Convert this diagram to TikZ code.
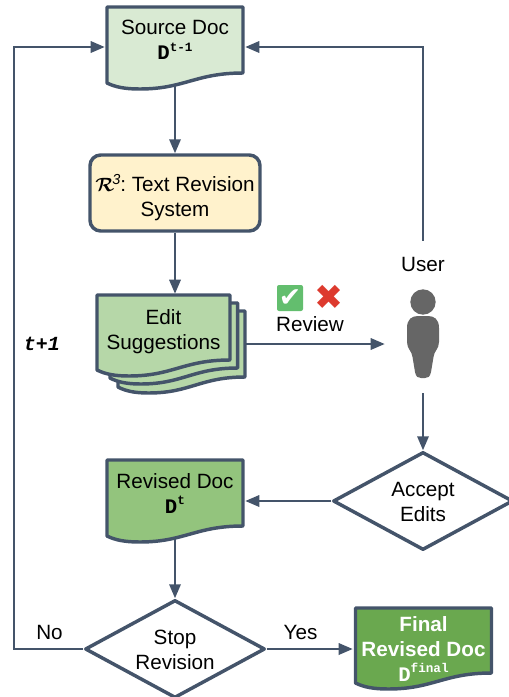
\documentclass[tikz,border=0pt]{standalone}
\usepackage{fontspec}
\usepackage{bm}
\setmainfont{Liberation Sans}
\newfontfamily\monofont{Liberation Mono}
\newfontfamily\symbolfont{DejaVu Sans}
\usetikzlibrary{arrows.meta,backgrounds,shapes.geometric}
\definecolor{slateline}{HTML}{44546A}
\definecolor{sourcefill}{HTML}{D9EAD3}
\definecolor{enginefill}{HTML}{FFF2CC}
\definecolor{suggestfill}{HTML}{B6D7A8}
\definecolor{revisedfill}{HTML}{93C47D}
\definecolor{finalfill}{HTML}{6AA84F}
\definecolor{usergray}{HTML}{666666}
\definecolor{checkgreen}{HTML}{63BE6E}
\definecolor{crossred}{HTML}{DD3A2E}
\newcommand{\docvar}[1]{{\monofont\bfseries D\raisebox{0.42em}{\fontsize{9.5}{9.5}\selectfont #1}}}
\newcommand{\docshape}[5]{\draw[docline,fill=#5,shift={(#1,#2)},xscale=#3/100]
  (0,0) -- (100,0) -- (100,#4) .. controls (65,#4) and (57,#4+16) .. (24,#4+16)
  .. controls (13,#4+16) and (6,#4+14) .. (0,#4+10) -- cycle;}
\tikzset{
  docline/.style={draw=slateline,line width=2.6pt,line join=round},
  link/.style={draw=slateline,line width=1.7pt,-{Triangle[length=10.5pt,width=8.5pt]}},
  doctext/.style={align=center,inner sep=0pt,minimum width=105pt,font=\fontsize{15.5}{18.75}\selectfont},
  decision/.style={doctext,diamond,aspect=1.84,docline,fill=white,minimum width=135pt,minimum height=73.5pt},
  tag/.style={inner sep=0pt,font=\fontsize{15.5}{18}\selectfont}
}
\begin{document}
\begin{tikzpicture}[x=0.75pt,y=-0.75pt]
      \useasboundingbox (0,0) rectangle (509,697);
      \docshape{107}{7}{136}{66}{sourcefill}
      \node[doctext,minimum height=57pt] (source) at (175,47) {Source Doc\\\docvar{t-1}\\[-8.25pt]};
      \node[doctext,docline,fill=enginefill,rounded corners=8pt,minimum width=127.5pt,minimum height=57pt] (engine) at (175,193)
        {$\bm{\mathcal{R}}$\kern-1.5pt\textsuperscript{\textit{3}}\kern-0.5pt:\kern-1.5pt{} Text Revision\\System\\[-22.5pt]};
      \docshape{118}{311}{127}{66}{suggestfill}
      \docshape{110}{303}{127.7}{65}{suggestfill}
      \docshape{97}{295}{133}{65}{suggestfill}
      \node[doctext,minimum width=100pt,minimum height=75pt] (suggest) at (163.5,344) {Edit\\Suggestions\\[3pt]};
      \docshape{107}{460}{136}{66}{revisedfill}
      \node[doctext,minimum height=52.5pt] (revised) at (175,501) {Revised Doc\\\docvar{t}\\[-7.5pt]};
      \docshape{355.5}{608}{136}{65}{finalfill}
      \node[doctext,text=white,font=\fontsize{15.5}{18.75}\selectfont\bfseries,minimum width=105.75pt,minimum height=60pt] (final) at (423.5,649)
        {Final\\Revised Doc\\\docvar{final}};
      \node[decision] (accept) at (423,501) {Accept\\Edits\\[-20.25pt]};
      \node[decision] (stop) at (175,649) {Stop\\Revision\\[-20.25pt]};
      \node[tag,minimum height=34.5pt] (userlabel) at (423,264) {User};
      \node[inner sep=0pt,minimum width=57pt,minimum height=73.5pt] (user) at (423,344) {};
      \fill[usergray] (423,302) circle[radius=9.5pt];
      \fill[usergray] (407,328) .. controls (407,319) and (412,316) .. (418,316) -- (428,316)
        .. controls (434,316) and (439,319) .. (439,328) -- (439,342) .. controls (439,349) and (434,351) .. (433.5,357)
        -- (431,372) .. controls (430,377) and (428,378) .. (425,378) -- (421,378)
        .. controls (418,378) and (416,377) .. (415,372) -- (412.5,357)
        .. controls (412,351) and (407,349) .. (407,342) -- cycle;
      \node[tag,fill=checkgreen,text=white,rounded corners=1.5pt,minimum size=19.5pt,font=\fontsize{20}{20}\symbolfont] (accepted) at (290,298) {✔};
      \node[tag,text=crossred,font=\fontsize{26}{26}\symbolfont] (rejected) at (329.5,297) {✖};
      \node[tag] (review) at (310,324) {Review};
      \node[tag,font=\fontsize{15}{15}\monofont\bfseries\itshape] (round) at (42,344) {t+1};
      \node[tag] (no) at (49.5,632) {No};
      \node[tag] (yes) at (300.5,632) {Yes};
      \coordinate (loop) at (14,649);
      \begin{scope}[on background layer]
        \draw[link] (source.south) to (engine.north);
        \draw[link] (engine.south) to (engine.south |- suggest.north);
        \draw[link] (suggest.east) to (user.west);
        \draw[link] (user.south) to (accept.north);
        \draw[link] (accept.west) to (accept.west -| revised.east);
        \draw[link] (revised.south) to (stop.north);
        \draw[link] (stop.east) to (final.west);
        \draw[link] (stop.west) -- (loop) |- (source.west);
        \draw[link] (userlabel.north) |- (source.east);
      \end{scope}
    \end{tikzpicture}
\end{document}
